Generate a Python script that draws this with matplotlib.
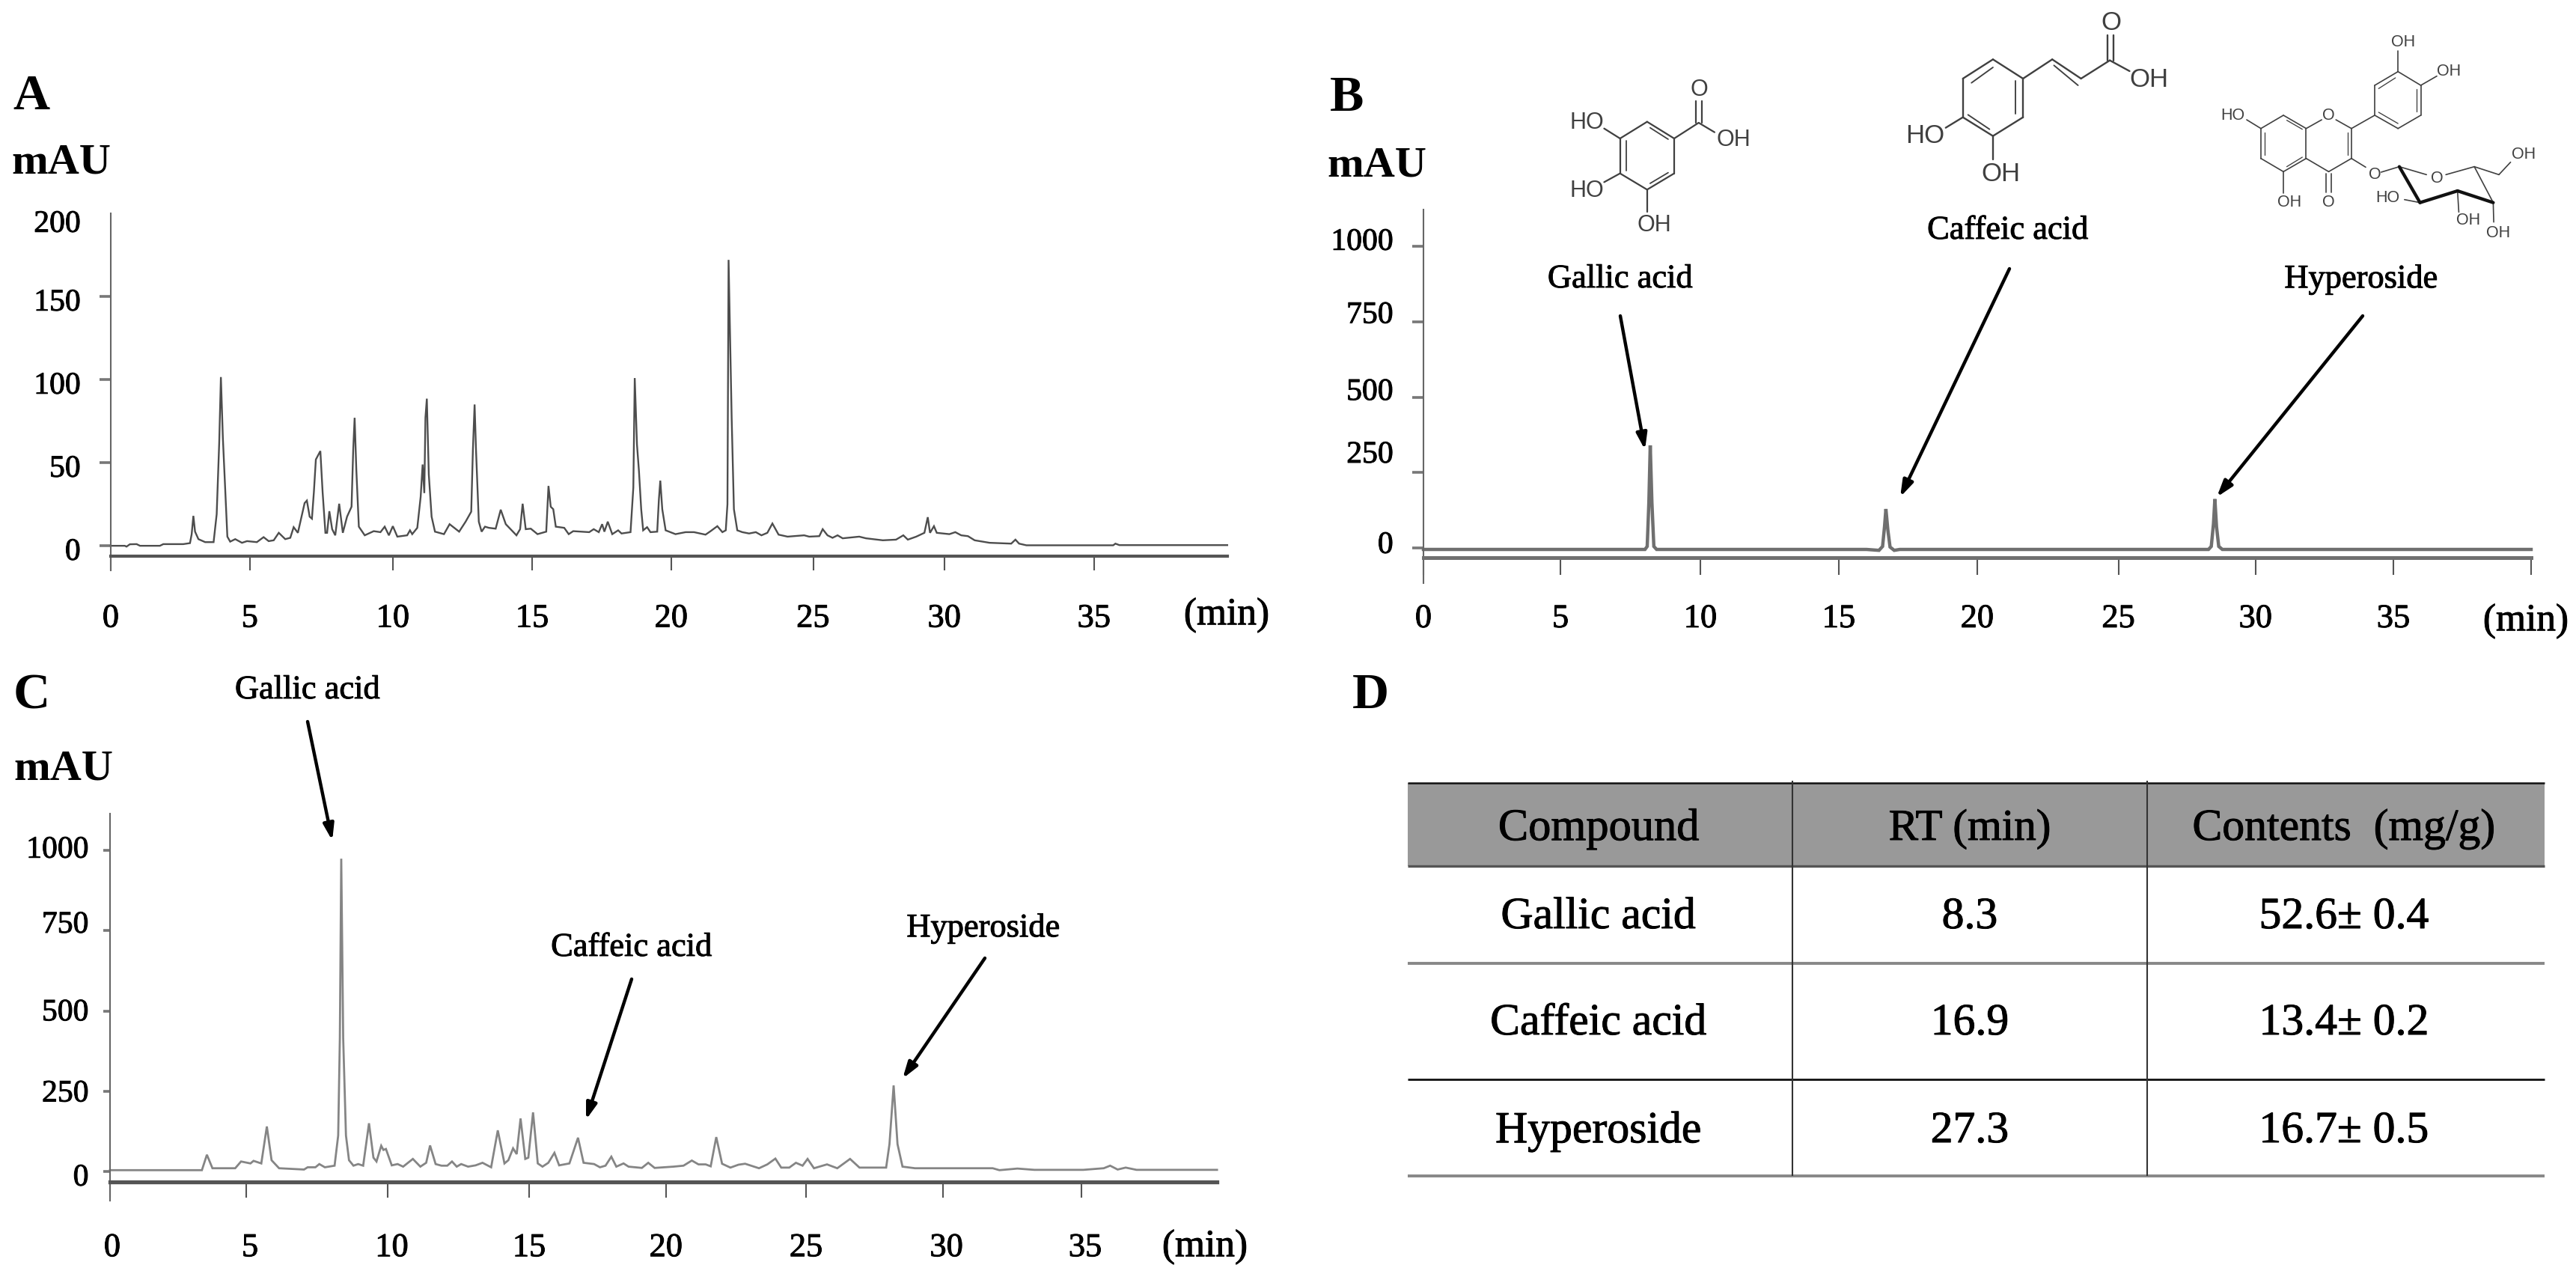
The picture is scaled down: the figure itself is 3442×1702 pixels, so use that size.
import matplotlib
matplotlib.use("Agg")
import matplotlib.pyplot as plt
import matplotlib.patheffects as pe
from matplotlib.patches import FancyArrowPatch, Rectangle
from matplotlib.transforms import ScaledTranslation

W, H = 3442, 1702
DPI = 100
SERIF = "Liberation Serif"
SANS = "Liberation Sans"
plt.rcParams["font.family"] = SERIF
HEAVY = [pe.withStroke(linewidth=0.7, foreground="black")]

# ---------- data ----------
a_time = [0, .5, .56, .68, .92, 1.04, 1.75, 1.87, 2.58, 2.82, 2.88, 2.94, 3.0, 3.12, 3.36, 3.66, 3.77, 3.86, 3.92, 3.99,
          4.07, 4.15, 4.25, 4.43, 4.67, 4.85, 5.2, 5.44, 5.62, 5.8, 5.98, 6.21, 6.39, 6.51, 6.66, 6.81, 6.9, 6.98, 7.08,
          7.16, 7.23, 7.3, 7.46, 7.54, 7.64, 7.7, 7.78, 7.88, 7.99, 8.13, 8.26, 8.41, 8.57, 8.63, 8.68, 8.74, 8.83, 9.04,
          9.36, 9.6, 9.75, 9.9, 10.04, 10.2, 10.55, 10.65, 10.73, 10.91, 11.03, 11.1, 11.16, 11.2, 11.25, 11.32, 11.42,
          11.54, 11.86, 12.06, 12.4, 12.63, 12.83, 12.89, 12.95, 13.0, 13.1, 13.2, 13.32, 13.46, 13.7, 13.88, 14.06, 14.44,
          14.57, 14.66, 14.77, 14.95, 15.19, 15.5, 15.58, 15.66, 15.75, 15.84, 16.14, 16.3, 16.46, 17.03, 17.19, 17.37,
          17.49, 17.57, 17.69, 17.85, 18.06, 18.18, 18.5, 18.6, 18.65, 18.73, 18.8, 18.88, 18.95, 19.09, 19.21, 19.45,
          19.51, 19.56, 19.63, 19.75, 20.1, 20.46, 20.76, 21.17, 21.35, 21.59, 21.77, 21.89, 21.95, 21.99, 22.1, 22.18,
          22.3, 22.48, 22.72, 22.96, 23.16, 23.37, 23.55, 23.77, 24.09, 24.68, 24.86, 25.22, 25.34, 25.51, 25.69, 25.87,
          26.05, 26.64, 26.88, 27.48, 27.95, 28.21, 28.37, 28.67, 28.96, 29.08, 29.16, 29.3, 29.4, 29.85, 30.06, 30.27,
          30.51, 30.75, 31.28, 32.05, 32.2, 32.33, 32.59, 35.68, 35.76, 35.9, 39.74]
a_signal = [0, 0, -.5, .9, 1, 0, 0, 1, 1, 1.6, 7, 18, 8.5, 4, 2.2, 2.2, 19, 62, 101.5, 65,
            35, 5.5, 2.5, 4, 1.8, 2.8, 2.2, 5.2, 2.8, 3.3, 7.8, 4, 4.8, 11.2, 7.8, 19, 25.7, 27.2, 17.5,
            16.3, 32.4, 51.9, 57, 32.4, 7.8, 7.8, 20.8, 10, 6.3, 25.3, 7.8, 17.5, 23.5, 57.9, 77, 45.9, 11.5, 6.3,
            8.8, 8.2, 11.5, 6.3, 11.8, 5.5, 6.3, 9.3, 7, 10.8, 29.4, 48.9, 31.7, 77, 88.5, 42.9, 17.5,
            8.5, 7, 13, 8.5, 14.5, 20.5, 57.9, 85, 57.9, 14.5, 8.5, 11.5, 10.8, 10.3, 21.7, 13, 6.3,
            10, 25.3, 10, 10.3, 7, 8.5, 36, 23.5, 22, 11.5, 10.8, 7, 8.8, 8.2, 10, 8.2,
            13, 8.5, 14.5, 7, 9.3, 7.4, 8.2, 35, 100.9, 60.8, 45, 22, 9.3, 11.2, 8.2, 8.5,
            28, 39.2, 22, 9.3, 7, 8.2, 8.2, 6.7, 8.8, 11.8, 8.2, 9.3, 25, 172, 77, 22,
            9.3, 8.2, 7.4, 8.2, 6.3, 7.8, 13.4, 6.7, 5.5, 6.3, 5.5, 5.8, 10, 6.3, 4.8, 6.3,
            4.5, 5.5, 4.5, 3.3, 3.7, 6.3, 3.7, 5.5, 7.8, 17.2, 7.8, 11.8, 7.8, 7, 8.2, 6.3,
            5.8, 3.3, 1.8, 1.3, 3.7, 1.3, .3, .3, 1.3, .4, .4]

b_time = [0, 8.0, 8.08, 8.14, 8.19, 8.25, 8.32, 8.42, 16.0, 16.45, 16.58, 16.65, 16.7, 16.77, 16.85, 17.0, 17.2, 28.35, 28.45,
          28.53, 28.58, 28.64, 28.72, 28.85, 40]
b_signal = [-5, -5, 5, 150, 340, 150, 5, -5, -5, -8, 5, 70, 129, 60, 3, -8, -5, -5, 5,
            80, 162, 70, 5, -5, -5]

c_time = [0, 3.31, 3.49, 3.69, 4.51, 4.72, 5.06, 5.17, 5.45, 5.65, 5.82, 6.09, 6.99, 7.12, 7.4, 7.54, 7.74, 8.09, 8.22, 8.28,
          8.33, 8.4, 8.5, 8.61, 8.77, 8.94, 9.12, 9.33, 9.49, 9.6, 9.77, 9.85, 9.94, 10.15, 10.36, 10.56, 10.91, 11.18, 11.39,
          11.53, 11.73, 11.94, 12.15, 12.32, 12.49, 12.65, 12.9, 13.17, 13.42, 13.73, 13.97, 14.21, 14.35, 14.52, 14.65, 14.79,
          14.96, 15.07, 15.24, 15.41, 15.58, 15.79, 16.01, 16.18, 16.55, 16.86, 17.06, 17.44, 17.65, 17.85, 18.06, 18.24, 18.5,
          18.68, 19.16, 19.39, 19.62, 20.3, 20.66, 20.96, 21.2, 21.46, 21.64, 21.84, 22.05, 22.35, 22.64, 22.88, 23.38, 23.68,
          23.97, 24.18, 24.47, 24.71, 24.95, 25.13, 25.36, 25.83, 26.2, 26.66, 27.0, 27.96, 28.08, 28.23, 28.37, 28.55, 29.0,
          30.03, 31.8, 32.04, 32.69, 33.3, 35.06, 35.8, 36.03, 36.3, 36.59, 36.98, 39.88]
c_signal = [4, 4, 52, 10, 10, 31, 25, 33, 25, 140, 35, 10, 6, 13, 13, 23, 13, 18, 112, 415,
            974, 415, 112, 35, 18, 23, 18, 150, 43, 31, 80, 67, 70, 19, 23, 15, 39, 15, 27,
            81, 23, 18, 18, 31, 15, 23, 15, 19, 27, 13, 128, 25, 35, 72, 54, 165,
            39, 43, 184, 25, 15, 27, 58, 19, 25, 105, 27, 23, 13, 18, 46, 15, 25,
            15, 11, 27, 11, 15, 18, 34, 22, 22, 16, 107, 24, 12, 21, 24, 10, 22,
            40, 12, 12, 27, 18, 39, 10, 22, 10, 39, 12, 12, 85, 268, 85, 15, 10,
            10, 10, 4, 9, 5, 5, 10, 18, 6, 12, 5, 5]

a_yticks = [0, 50, 100, 150, 200]
bc_yticks = [0, 250, 500, 750, 1000]
x_tick_labels = ["0", "5", "10", "15", "20", "25", "30", "35"]
a_xtick_pos = [0, 4.95, 10.04, 15.0, 19.95, 25.0, 29.67, 35]
b_xtick_pos = [0, 4.95, 10.0, 15.0, 20.0, 25.1, 30.05, 35.03, 40]
c_xtick_pos = [0, 4.91, 9.99, 15.1, 20.03, 25.08, 30.0, 35]

table_header = ["Compound", "RT (min)", "Contents  (mg/g)"]
table_compound = ["Gallic acid", "Caffeic acid", "Hyperoside"]
table_rt = ["8.3", "16.9", "27.3"]
table_content = ["52.6\u00b1 0.4", "13.4\u00b1 0.2", "16.7\u00b1 0.5"]

# ---------- figure ----------
fig = plt.figure(figsize=(W / DPI, H / DPI), dpi=DPI, facecolor="white")


def make_panel(x0, x1, ytop, ybottom, yaxis_px, px_min, zero_px, px_unit, xt, xlabs, yt, yoffs, xoffs,
               t, s, color, lw, spine_lw, xlen, xpad, ylen=11, ypad=18, spine_color="#555555"):
    ax = fig.add_axes([x0 / W, 1 - ybottom / H, (x1 - x0) / W, (ybottom - ytop) / H])
    ax.set_xlim(0, (x1 - x0) / px_min)
    ax.set_ylim((zero_px - ybottom) / px_unit, (zero_px - ytop) / px_unit)
    ax.plot(t, s, color=color, lw=lw, solid_joinstyle="miter", clip_on=False)
    for k in ("top", "right"):
        ax.spines[k].set_visible(False)
    ax.spines["left"].set_linewidth(1.5)
    ax.spines["left"].set_color("#666666")
    ax.spines["bottom"].set_position(("data", (zero_px - yaxis_px) / px_unit))
    ax.spines["bottom"].set_linewidth(spine_lw)
    ax.spines["bottom"].set_color(spine_color)
    ax.set_xticks(xt)
    ax.set_xticklabels(xlabs, fontsize=32)
    ax.set_yticks(yt)
    ax.set_yticklabels([str(v) for v in yt], fontsize=30)
    ax.tick_params(axis="x", length=xlen * 0.72, width=1.5, color="#555555", pad=xpad)
    ax.tick_params(axis="y", length=ylen, width=2.6, color="#777777", pad=ypad)
    for lab, dy in zip(ax.get_yticklabels(), yoffs):
        lab.set_transform(lab.get_transform() + ScaledTranslation(0, -dy / DPI, fig.dpi_scale_trans))
        lab.set_path_effects(HEAVY)
    for lab, dx in zip(ax.get_xticklabels(), xoffs):
        lab.set_transform(lab.get_transform() + ScaledTranslation(dx / DPI, 0, fig.dpi_scale_trans))
        lab.set_path_effects(HEAVY)
    ax.patch.set_alpha(0)
    return ax


ax_a = make_panel(148, 1640, 285, 762, 743, 37.54, 729, 2.23, a_xtick_pos, x_tick_labels, a_yticks,
                  [4, 4, 4, 4, 10], [0] * 8, a_time, a_signal, "#4d4d4d", 1.7, 3.0, 19, 32)
ax_a.yaxis.get_major_ticks()[-1].tick1line.set_visible(False)
ax_b = make_panel(1902, 3382, 280, 779, 745, 37.0, 732, 0.403, b_xtick_pos, x_tick_labels + [""], bc_yticks,
                  [-8, -28, -11, -13, -10], [0] * 9, b_time, b_signal, "#6f6f6f", 3.2, 3.6, 23, 28,
                  spine_color="#707070")
ax_c = make_panel(147, 1626, 1087, 1604, 1579, 37.09, 1565, 0.429, c_xtick_pos, x_tick_labels, bc_yticks,
                  [4, -1, -2, -12, -5], [3, 5, 6, 0, 0, 0, 5, 5], c_time, c_signal, "#858585", 2.0, 3.8, 21, 34,
                  ylen=6.5, ypad=14)

# ---------- overlay in image pixels ----------
ov = fig.add_axes([0, 0, 1, 1], zorder=10)
ov.set_xlim(0, W)
ov.set_ylim(H, 0)
ov.axis("off")
ov.patch.set_alpha(0)


def serif(x, y, s, size=32, weight="normal"):
    t = ov.text(x, y + 4, s, fontsize=size, fontweight=weight, ha="center", va="center", family=SERIF, color="black")
    if weight == "normal":
        t.set_path_effects(HEAVY)


for x, y, s in [(42, 125, "A"), (1800, 127, "B"), (42, 926, "C"), (1831, 925, "D")]:
    serif(x, y, s, 49, "bold")
for x, y in [(82, 213), (1840, 217), (85, 1024)]:
    serif(x, y, "mAU", 42, "bold")
for x, y in [(1639, 818), (3375, 826), (1610, 1662)]:
    serif(x, y, "(min)", 37)

for x, y, s in [(2165, 369, "Gallic acid"), (2683, 304, "Caffeic acid"), (3155, 369, "Hyperoside"),
                (411, 918, "Gallic acid"), (844, 1262, "Caffeic acid"), (1314, 1236, "Hyperoside")]:
    serif(x, y, s, 32)

arrows = [((2165, 422), (2198, 601)), ((2685, 359), (2539, 664)), ((3157, 422), (2962, 664)),
          ((411, 964), (444, 1123)), ((844, 1308), (783, 1496)), ((1316, 1280), (1206, 1441))]
for p0, p1 in arrows:
    ov.add_patch(FancyArrowPatch(p0, p1, arrowstyle="-|>,head_length=1.3,head_width=0.42", mutation_scale=10,
                                 lw=3.2, color="black", shrinkA=0, shrinkB=0))

# ---------- table ----------
ov.add_patch(Rectangle((1881, 1046), 3400 - 1881, 1157 - 1046, facecolor="#999999", edgecolor="none"))
for y, c, lw in [(1046, "#111111", 1.8), (1157, "#555555", 2.4), (1287, "#888888", 2.8), (1442, "#111111", 2.0),
                 (1571, "#888888", 2.8)]:
    ov.plot([1881, 3400], [y, y], color=c, lw=lw, solid_capstyle="butt")
for x in (2395, 2869):
    ov.plot([x, x], [1043, 1571], color="#333333", lw=1.5, solid_capstyle="butt")
col_x = [2136, 2632, 3132]
for x, s, fs in zip(col_x, table_header, [43.5, 42.5, 43]):
    serif(x, 1104, s, fs)
for y, row in zip([1222, 1364, 1508], zip(table_compound, table_rt, table_content)):
    for x, s in zip(col_x, row):
        serif(x, y, s, 43)


# ---------- structures ----------
def draw_mol(ox, oy, sx, sy, bonds, doubles, bold, labels, size, lw):
    col = "#404040"
    conv = lambda p: (ox + p[0] / sx, oy + p[1] / sy)
    for a, b in bonds:
        (x0, y0), (x1, y1) = conv(a), conv(b)
        ov.plot([x0, x1], [y0, y1], color=col, lw=lw, solid_capstyle="round")
    for a, b in doubles:
        (x0, y0), (x1, y1) = conv(a), conv(b)
        ov.plot([x0, x1], [y0, y1], color=col, lw=lw * 0.8, solid_capstyle="round")
    for a, b in bold:
        (x0, y0), (x1, y1) = conv(a), conv(b)
        ov.plot([x0, x1], [y0, y1], color="#111111", lw=lw * 2.6, solid_capstyle="round")
    for p, s in labels:
        x, y = conv(p)
        ov.text(x, y, s, fontsize=size, family=SANS, color=col, ha="center", va="center")


# gallic acid and caffeic acid, coordinates from the crop at x=2020, y=40
draw_mol(2020, 40, 1.742, 3,
         [((315, 368), (378, 435)), ((378, 435), (378, 575)), ((378, 575), (315, 640)), ((315, 640), (252, 575)),
          ((252, 575), (252, 435)), ((252, 435), (315, 368)), ((378, 435), (435, 372)), ((435, 372), (472, 410)),
          ((252, 435), (215, 395)), ((252, 575), (215, 610)), ((315, 640), (315, 730)),
          ((428, 372), (428, 285)), ((442, 372), (442, 285))],
         [((322, 392), (364, 438)), ((266, 445), (266, 565)), ((364, 572), (322, 615))],
         [],
         [((437, 240), "O"), ((517, 440), "OH"), ((175, 372), "HO"), ((175, 645), "HO"), ((332, 782), "OH")], 22, 1.6)

draw_mol(2020, 40, 1.742, 3,
         [((1120, 118), (1190, 195)), ((1190, 195), (1190, 350)), ((1190, 350), (1120, 425)), ((1120, 425), (1050, 350)),
          ((1050, 350), (1050, 195)), ((1050, 195), (1120, 118)), ((1190, 195), (1258, 118)), ((1258, 118), (1325, 195)),
          ((1325, 195), (1392, 122)), ((1392, 122), (1438, 165)), ((1050, 350), (1010, 392)), ((1120, 425), (1120, 520)),
          ((1386, 122), (1386, 20)), ((1400, 122), (1400, 20))],
         [((1070, 212), (1120, 150)), ((1172, 205), (1172, 335)), ((1062, 340), (1112, 398)), ((1262, 142), (1318, 222))],
         [],
         [((1483, 198), "OH"), ((962, 425), "HO"), ((1138, 578), "OH"), ((1395, -30), "O")], 25, 1.7)

# hyperoside, coordinates from the crop at x=2900, y=0
draw_mol(2900, 0, 2.893, 3,
         [((350, 515), (437, 462)), ((437, 462), (525, 515)), ((525, 515), (525, 635)), ((525, 635), (437, 688)),
          ((437, 688), (350, 635)), ((350, 635), (350, 515)), ((525, 515), (585, 480)), ((640, 480), (700, 515)),
          ((700, 515), (700, 635)), ((700, 635), (612, 688)), ((612, 688), (525, 635)),
          ((603, 695), (603, 770)), ((621, 695), (621, 770)),
          ((350, 515), (295, 480)), ((437, 688), (437, 775)),
          ((700, 515), (790, 462)), ((790, 462), (790, 342)), ((790, 342), (880, 287)), ((880, 287), (968, 342)),
          ((968, 342), (968, 462)), ((968, 462), (880, 515)), ((880, 515), (790, 462)),
          ((880, 287), (880, 205)), ((968, 342), (1030, 305)),
          ((700, 635), (755, 670)), ((815, 690), (885, 668)), ((885, 668), (990, 700)), ((1065, 700), (1175, 668)),
          ((1175, 668), (1270, 700)), ((1270, 700), (1315, 650)), ((1175, 668), (1248, 812)),
          ((965, 812), (905, 800)), ((1110, 765), (1115, 850)), ((1248, 812), (1250, 890))],
         [((450, 482), (510, 518)), ((365, 530), (365, 620)), ((450, 668), (510, 630)), ((685, 530), (685, 620)),
          ((805, 355), (870, 312)), ((952, 358), (952, 448)), ((880, 495), (805, 450))],
         [((885, 668), (965, 812)), ((965, 812), (1110, 765)), ((1110, 765), (1248, 812))],
         [((240, 462), "HO"), ((460, 812), "OH"), ((612, 462), "O"), ((612, 812), "O"), ((900, 170), "OH"),
          ((1075, 287), "OH"), ((790, 700), "O"), ((1030, 715), "O"), ((1365, 618), "OH"), ((840, 792), "HO"),
          ((1152, 885), "OH"), ((1268, 935), "OH")], 15.5, 1.2)

fig.savefig("out.png", dpi=DPI, facecolor="white")
